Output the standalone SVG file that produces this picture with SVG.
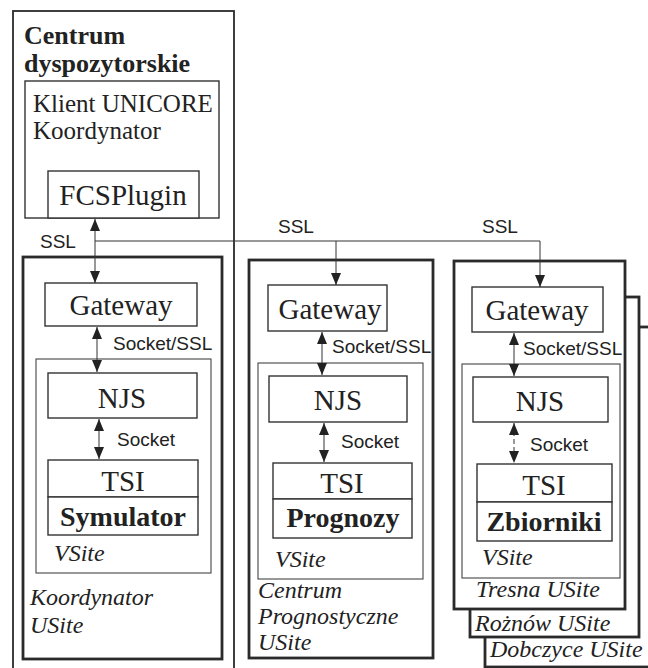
<svg xmlns="http://www.w3.org/2000/svg" width="648" height="668" viewBox="0 0 648 668">
<defs>
<marker id="ah" viewBox="0 0 12 10" refX="12" refY="5" markerWidth="12" markerHeight="10" markerUnits="userSpaceOnUse" orient="auto-start-reverse">
<path d="M0,0 L12,5 L0,10 z" fill="#222"/>
</marker>
<style>
.thick{fill:#fff;stroke:#2a2a2a;stroke-width:2.8}
.med{fill:none;stroke:#2a2a2a;stroke-width:1.8}
.thin{fill:#fff;stroke:#333;stroke-width:1.4}
.vs{fill:none;stroke:#444;stroke-width:1.1}
.conn{stroke:#333;stroke-width:1;fill:none}
.box{font-family:"Liberation Serif",serif;font-size:29px;fill:#222;text-anchor:middle}
.bold{font-family:"Liberation Serif",serif;font-size:28px;font-weight:bold;fill:#222;text-anchor:middle}
.ital{font-family:"Liberation Serif",serif;font-size:24px;font-style:italic;fill:#222}
.sans{font-family:"Liberation Sans",sans-serif;font-size:19px;fill:#222}
.title{font-family:"Liberation Serif",serif;font-size:26px;font-weight:bold;fill:#222}
.reg{font-family:"Liberation Serif",serif;font-size:25px;fill:#222}
</style>
</defs>

<!-- Centrum dyspozytorskie -->
<g id="centrum">
<rect class="med" x="13" y="11" width="221" height="670"/>
<text class="title" x="24" y="44">Centrum</text>
<text class="title" x="24" y="72">dyspozytorskie</text>
</g>
<g id="klient">
<rect class="thin" x="25" y="81" width="194" height="137"/>
<text class="reg" x="33" y="112">Klient UNICORE</text>
<text class="reg" x="33" y="139">Koordynator</text>
</g>
<g id="fcsplugin">
<rect class="thin" x="48" y="171" width="151" height="47"/>
<text class="box" x="123" y="205">FCSPlugin</text>
</g>

<!-- Stacked USites col 3 (behind) -->
<g id="dobczyce">
<rect class="thick" x="485" y="327" width="200" height="340"/>
<text class="ital" x="490" y="657">Dobczyce USite</text>
</g>
<g id="roznow">
<rect class="thick" x="470" y="297" width="169" height="340"/>
<text class="ital" x="475" y="631">Rożnów USite</text>
</g>

<!-- Koordynator USite -->
<g id="koordynator-usite">
<rect class="thick" x="23" y="257" width="199" height="402"/>
<text class="ital" x="30" y="605">Koordynator</text>
<text class="ital" x="30" y="633">USite</text>
</g>
<g id="vsite1">
<rect class="vs" x="36" y="359" width="175" height="214"/>
<text class="ital" x="54" y="561" font-size="23">VSite</text>
</g>
<g id="gateway1">
<rect class="thin" x="45" y="283" width="152" height="43"/>
<text class="box" x="121" y="315">Gateway</text>
</g>
<g id="njs1">
<rect class="thin" x="48" y="373" width="149" height="45"/>
<text class="box" x="122" y="408">NJS</text>
</g>
<g id="tsi1">
<rect class="thin" x="48" y="460" width="150" height="37"/>
<text class="box" x="123" y="491">TSI</text>
</g>
<g id="symulator">
<rect class="thin" x="48" y="497" width="150" height="38"/>
<text class="bold" x="123" y="526">Symulator</text>
</g>

<!-- Centrum Prognostyczne USite -->
<g id="prognostyczne-usite">
<rect class="thick" x="249" y="260" width="184" height="398"/>
<text class="ital" x="258" y="598">Centrum</text>
<text class="ital" x="258" y="624">Prognostyczne</text>
<text class="ital" x="258" y="650">USite</text>
</g>
<g id="vsite2">
<rect class="vs" x="258" y="363" width="165" height="216"/>
<text class="ital" x="275" y="567" font-size="23">VSite</text>
</g>
<g id="gateway2">
<rect class="thin" x="268" y="285" width="119" height="46"/>
<text class="box" x="330" y="319">Gateway</text>
</g>
<g id="njs2">
<rect class="thin" x="269" y="376" width="138" height="46"/>
<text class="box" x="338" y="410">NJS</text>
</g>
<g id="tsi2">
<rect class="thin" x="273" y="463" width="139" height="36"/>
<text class="box" x="342" y="493">TSI</text>
</g>
<g id="prognozy">
<rect class="thin" x="273" y="499" width="139" height="39"/>
<text class="bold" x="343" y="527">Prognozy</text>
</g>

<!-- Tresna USite -->
<g id="tresna-usite">
<rect class="thick" x="454" y="261" width="171" height="348"/>
<text class="ital" x="476" y="597">Tresna USite</text>
</g>
<g id="vsite3">
<rect class="vs" x="462" y="364" width="158" height="214"/>
<text class="ital" x="482" y="565" font-size="23">VSite</text>
</g>
<g id="gateway3">
<rect class="thin" x="472" y="287" width="131" height="45"/>
<text class="box" x="537" y="320">Gateway</text>
</g>
<g id="njs3">
<rect class="thin" x="473" y="377" width="135" height="45"/>
<text class="box" x="540" y="411">NJS</text>
</g>
<g id="tsi3">
<rect class="thin" x="477" y="464" width="135" height="38"/>
<text class="box" x="544" y="495">TSI</text>
</g>
<g id="zbiorniki">
<rect class="thin" x="477" y="502" width="135" height="39"/>
<text class="bold" x="544" y="531">Zbiorniki</text>
</g>

<!-- Connectors -->
<g id="connectors">
<line class="conn" x1="95" y1="241" x2="540" y2="241"/>
<line class="conn" x1="95" y1="241" x2="95" y2="219" marker-end="url(#ah)"/>
<line class="conn" x1="95" y1="241" x2="95" y2="283" marker-end="url(#ah)"/>
<line class="conn" x1="336" y1="241" x2="336" y2="285" marker-end="url(#ah)"/>
<line class="conn" x1="540" y1="241" x2="540" y2="287" marker-end="url(#ah)"/>
<line class="conn" x1="97" y1="327" x2="97" y2="372" marker-start="url(#ah)" marker-end="url(#ah)"/>
<line class="conn" x1="99" y1="419" x2="99" y2="459" marker-start="url(#ah)" marker-end="url(#ah)"/>
<line class="conn" x1="322" y1="332" x2="322" y2="375" marker-start="url(#ah)" marker-end="url(#ah)"/>
<line class="conn" x1="324" y1="423" x2="324" y2="462" marker-start="url(#ah)" marker-end="url(#ah)"/>
<line class="conn" x1="514" y1="333" x2="514" y2="376" marker-start="url(#ah)" marker-end="url(#ah)"/>
<line class="conn" x1="514" y1="423" x2="514" y2="463" stroke-dasharray="5,3" marker-start="url(#ah)" marker-end="url(#ah)"/>
<text class="sans" x="40" y="248">SSL</text>
<text class="sans" x="278" y="233">SSL</text>
<text class="sans" x="482" y="233">SSL</text>
<text class="sans" x="113" y="350">Socket/SSL</text>
<text class="sans" x="332" y="353">Socket/SSL</text>
<text class="sans" x="523" y="355">Socket/SSL</text>
<text class="sans" x="117" y="446">Socket</text>
<text class="sans" x="341" y="448">Socket</text>
<text class="sans" x="530" y="451">Socket</text>
</g>
</svg>
